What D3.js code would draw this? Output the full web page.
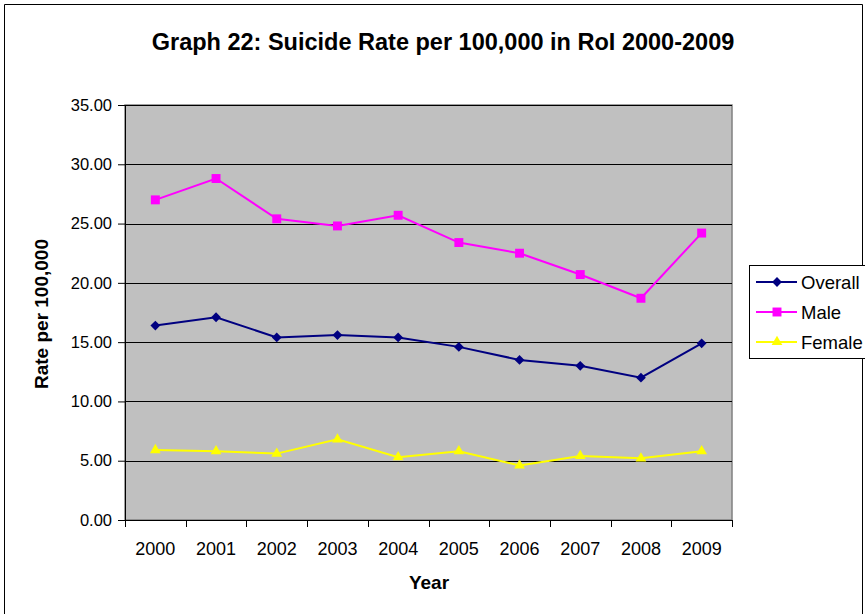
<!DOCTYPE html>
<html>
<head>
<meta charset="utf-8">
<script src="https://cdn.jsdelivr.net/npm/d3@7"></script>
<style>
  html, body { margin: 0; padding: 0; background: #fff; }
  svg { display: block; font-family: "Liberation Sans", Arial, sans-serif; }
</style>
</head>
<body>
<svg id="chart" width="865" height="614"></svg>
<script>
// Suicide rate per 100,000, Republic of Ireland
const years = ["2000","2001","2002","2003","2004","2005","2006","2007","2008","2009"];
const overall = [16.4, 17.1, 15.4, 15.6, 15.4, 14.6, 13.5, 13.0, 12.0, 14.9];
const male    = [27.0, 28.8, 25.4, 24.8, 25.7, 23.4, 22.5, 20.7, 18.7, 24.2];
const female  = [5.9, 5.8, 5.6, 6.8, 5.3, 5.8, 4.6, 5.4, 5.2, 5.8];
const yTicks  = [0, 5, 10, 15, 20, 25, 30, 35];

// a diamond drawn as a square turned 45 degrees
const symbolRhombus = {
  draw(context, size) {
    const r = Math.sqrt(size / 2);
    context.moveTo(0, -r);
    context.lineTo(r, 0);
    context.lineTo(0, r);
    context.lineTo(-r, 0);
    context.closePath();
  }
};

const seriesList = [
  { name: "Overall", values: overall, color: "#000080", symbol: symbolRhombus,     size: 48 },
  { name: "Male",    values: male,    color: "#FF00FF", symbol: d3.symbolSquare,   size: 80 },
  { name: "Female",  values: female,  color: "#FFFF00", symbol: d3.symbolTriangle, size: 50 }
];

const svg = d3.select("#chart");
const plot = { left: 125, top: 105, right: 732, bottom: 520 };

// outer chart frame
svg.append("path")
  .attr("d", "M4.5,614 V4.5 H862.5 V614")
  .attr("fill", "none").attr("stroke", "#000").attr("stroke-width", 1);

svg.append("text")
  .attr("x", 443).attr("y", 50)
  .attr("text-anchor", "middle")
  .attr("font-weight", "bold").attr("font-size", 23.5)
  .text("Graph 22: Suicide Rate per 100,000 in RoI 2000-2009");

const x = d3.scaleBand().domain(years).range([plot.left, plot.right]);
const y = d3.scaleLinear().domain([0, 35]).range([plot.bottom, plot.top]);

// plot background
svg.append("rect")
  .attr("x", plot.left).attr("y", plot.top)
  .attr("width", plot.right - plot.left).attr("height", plot.bottom - plot.top)
  .attr("fill", "#C0C0C0").attr("stroke", "#808080").attr("stroke-width", 1.5);

// horizontal gridlines
svg.append("g").selectAll("line")
  .data(yTicks.filter(t => t > 0))
  .join("line")
  .attr("x1", plot.left).attr("x2", plot.right)
  .attr("y1", d => Math.round(y(d)) + 0.5).attr("y2", d => Math.round(y(d)) + 0.5)
  .attr("stroke", "#000").attr("stroke-width", 1);

// y axis
const yAxis = svg.append("g")
  .attr("transform", `translate(${plot.left},0)`)
  .call(d3.axisLeft(y).tickValues(yTicks).tickSize(7).tickPadding(6).tickFormat(d3.format(".2f")));
yAxis.select(".domain").attr("stroke", "#000");
yAxis.selectAll(".tick line").attr("stroke", "#000");
yAxis.selectAll("text").attr("font-size", 16.5).attr("fill", "#000")
  .attr("font-family", "Liberation Sans, Arial, sans-serif");

// x axis: ticks at category boundaries
const xAxis = svg.append("g")
  .attr("transform", `translate(0,${plot.bottom})`)
  .call(d3.axisBottom(x).tickSize(0).tickPadding(22));
xAxis.select(".domain").attr("stroke", "#000");
xAxis.selectAll("text").attr("font-size", 18).attr("fill", "#000")
  .attr("font-family", "Liberation Sans, Arial, sans-serif");
const bounds = years.map(d => x(d)).concat([x(years[years.length - 1]) + x.bandwidth()]);
xAxis.selectAll(".bound")
  .data(bounds)
  .join("line")
  .attr("class", "bound")
  .attr("x1", d => Math.round(d) + 0.5).attr("x2", d => Math.round(d) + 0.5)
  .attr("y1", 0).attr("y2", 7)
  .attr("stroke", "#000");

// axis titles
svg.append("text")
  .attr("x", 429).attr("y", 589)
  .attr("text-anchor", "middle")
  .attr("font-weight", "bold").attr("font-size", 19)
  .text("Year");

svg.append("text")
  .attr("transform", "translate(48,314) rotate(-90)")
  .attr("text-anchor", "middle")
  .attr("font-weight", "bold").attr("font-size", 19)
  .text("Rate per 100,000");

// series lines and markers
const cx = d => x(d) + x.bandwidth() / 2;
const line = d3.line().x((d, i) => cx(years[i])).y(d => y(d));

seriesList.forEach(s => {
  svg.append("path")
    .datum(s.values)
    .attr("d", line)
    .attr("fill", "none")
    .attr("stroke", s.color).attr("stroke-width", 2);
  svg.append("g").selectAll("path")
    .data(s.values)
    .join("path")
    .attr("transform", (d, i) => `translate(${cx(years[i])},${y(d)})`)
    .attr("d", d3.symbol().type(s.symbol).size(s.size))
    .attr("fill", s.color);
});

// legend
const legend = svg.append("g");
legend.append("rect")
  .attr("x", 749.5).attr("y", 265.5)
  .attr("width", 130).attr("height", 93)
  .attr("fill", "#fff").attr("stroke", "#000");
seriesList.forEach((s, i) => {
  const ly = 282 + i * 30;
  legend.append("line")
    .attr("x1", 756).attr("x2", 797)
    .attr("y1", ly).attr("y2", ly)
    .attr("stroke", s.color).attr("stroke-width", 2);
  legend.append("path")
    .attr("transform", `translate(777,${ly})`)
    .attr("d", d3.symbol().type(s.symbol).size(s.size))
    .attr("fill", s.color);
  legend.append("text")
    .attr("x", 801).attr("y", ly + 6.5)
    .attr("font-size", 18.5)
    .text(s.name);
});
</script>
</body>
</html>
